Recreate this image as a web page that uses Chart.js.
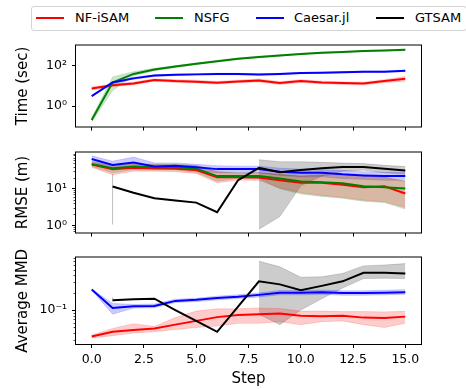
<!DOCTYPE html>
<html>
<head>
<meta charset="utf-8">
<script src="https://cdn.jsdelivr.net/npm/chart.js@4.4.0/dist/chart.umd.min.js"></script>
<style>
  body { margin: 0; background: #fff; width: 466px; height: 389px; position: relative; overflow: hidden; font-family: "DejaVu Sans", sans-serif; }
  canvas { position: absolute; left: 0; }
  #legend { position: absolute; left: 31px; top: 6px; width: 436px; height: 25px; border: 1px solid #d4d4d4; border-radius: 3px; box-sizing: border-box; background: #fff; z-index: 2; }
  #legend .sw { position: absolute; top: 10px; width: 28px; height: 2px; }
  #legend .lb { position: absolute; top: 3px; font-size: 13px; line-height: 16px; color: #000; white-space: nowrap; }
</style>
</head>
<body>
<div id="legend">
  <span class="sw" style="left:4px;background:#ff0000"></span><span class="lb" style="left:43px">NF-iSAM</span>
  <span class="sw" style="left:123px;background:#008000"></span><span class="lb" style="left:162px">NSFG</span>
  <span class="sw" style="left:224px;background:#0000ff"></span><span class="lb" style="left:262px">Caesar.jl</span>
  <span class="sw" style="left:344px;background:#000000"></span><span class="lb" style="left:383px">GTSAM</span>
</div>
<canvas id="timeChart" width="466" height="106" style="top:33px"></canvas>
<canvas id="rmseChart" width="466" height="105" style="top:140px"></canvas>
<canvas id="mmdChart" width="466" height="144" style="top:245px"></canvas>

<script>
const steps = [0, 1, 2, 3, 4, 5, 6, 7, 8, 9, 10, 11, 12, 13, 14, 15];
const xTicks = [0, 2.5, 5, 7.5, 10, 12.5, 15];

// Time (sec)
const nfTime = [7.6, 10.8, 13.5, 20, 17.6, 16.5, 14.5, 17, 19, 14, 17.6, 15, 14, 13.5, 17.6, 23];
const nfTimeLo = [6.4, 9.3, 11.5, 17.5, 15, 14, 12.5, 14.5, 16, 12, 15, 13, 12, 11.5, 15, 17.5];
const nfTimeHi = [9.0, 12.5, 15.8, 23, 20.5, 19.5, 17, 19.5, 22.5, 16.5, 20.5, 17.5, 16, 15.5, 20.5, 30];
const nsfgTime = [0.2, 15, 40, 66, 93, 128, 172, 228, 278, 335, 394, 450, 500, 550, 590, 645];
const nsfgTimeLo = [0.16, 6, 32, 58, 84, 116, 158, 210, 258, 312, 368, 420, 468, 515, 552, 605];
const nsfgTimeHi = [0.26, 28, 52, 76, 103, 140, 188, 248, 300, 360, 422, 480, 535, 588, 630, 690];
const caesarTime = [3.1, 15, 24, 33, 36, 38, 40, 40, 37, 40, 44, 46, 48.5, 52, 52, 57];
const caesarTimeLo = [2.9, 13.5, 21.5, 30, 33, 35, 37, 37, 34, 37, 41, 43, 45, 48, 48, 53];
const caesarTimeHi = [3.3, 16.5, 27, 36, 39, 41, 43, 43, 40, 43, 47, 49, 52, 56, 56, 61];
const timeTicks = [1, 100];
const timeLabels = ["10⁰", "10²"];

// RMSE (m)
const nfRmse = [45, 34, 37, 36, 35, 32, 20.5, 20.5, 20, 17, 14.5, 14.5, 12.8, 11, 11.7, 7.4];
const nfRmseLo = [38, 24, 30, 30, 29, 26, 14.5, 17, 17, 10.5, 7.8, 6.6, 5.8, 4.9, 4.4, 3.1];
const nfRmseHi = [52, 43, 46, 45, 44, 42, 29, 26, 27, 24.5, 22, 23.5, 24.5, 22.4, 20.6, 15.8];
const nsfgRmse = [47, 36, 40, 38, 39, 35, 22, 22, 22, 18.8, 15.8, 15, 14, 11.7, 11, 10.2];
const nsfgRmseLo = [40, 27, 33, 32, 32, 28, 16, 19, 18.8, 10, 7.2, 6.2, 5.5, 4.6, 4.2, 2.8];
const nsfgRmseHi = [54, 45, 48, 46, 46, 43, 29, 27, 27, 24.5, 22, 23.5, 24.5, 22.4, 20.6, 16];
const caesarRmse = [64, 44, 51, 40, 42, 38, 34, 34, 34, 29, 27, 27, 24.5, 23, 22, 22];
const caesarRmseLo = [54, 35, 38, 33, 35, 31, 27, 27, 27, 23, 21, 21, 19, 18, 17, 17];
const caesarRmseHi = [78, 56, 72, 50, 50, 46, 42, 41, 41, 36, 34, 33, 31, 29, 28, 28];
const gtsamRmse = [null, 11.5, 7.8, 5.5, 4.8, 4.2, 2.3, 17, 37, 28, 32, 36, 39, 39, 35, 31];
const gtsamRmseLo = [null, 1.07, null, null, null, null, null, null, 0.8, 1.76, 12, 22, 30, 32, 27, 24.5];
const gtsamRmseHi = [null, 25, null, null, null, null, null, null, 61, 54, 54, 52, 49.5, 48, 43, 40];
const rmseTicks = [1, 10];
const rmseLabels = ["10⁰", "10¹"];
const rmseMinor = [0.7, 0.8, 0.9, 2, 3, 4, 5, 6, 7, 8, 9, 20, 30, 40, 50, 60, 70, 80, 90];

// Average MMD
const nfMmd = [0.035, 0.042, 0.045, 0.048, 0.056, 0.065, 0.0755, 0.082, 0.085, 0.087, 0.08, 0.078, 0.08, 0.074, 0.073, 0.077];
const nfMmdLo = [0.033, 0.036, 0.04, 0.042, 0.046, 0.05, 0.053, 0.059, 0.059, 0.063, 0.056, 0.063, 0.065, 0.056, 0.05, 0.059];
const nfMmdHi = [0.037, 0.048, 0.058, 0.052, 0.074, 0.096, 0.105, 0.105, 0.109, 0.106, 0.096, 0.096, 0.094, 0.094, 0.093, 0.095];
const caesarMmd = [0.226, 0.109, 0.116, 0.118, 0.144, 0.15, 0.162, 0.17, 0.183, 0.2, 0.2, 0.204, 0.197, 0.197, 0.2, 0.204];
const caesarMmdLo = [0.222, 0.085, 0.108, 0.11, 0.135, 0.14, 0.15, 0.158, 0.168, 0.183, 0.183, 0.187, 0.18, 0.18, 0.183, 0.188];
const caesarMmdHi = [0.23, 0.13, 0.125, 0.127, 0.154, 0.16, 0.174, 0.183, 0.198, 0.218, 0.218, 0.222, 0.215, 0.215, 0.22, 0.225];
const gtsamMmd = [null, 0.148, 0.153, 0.157, 0.1, 0.065, 0.042, 0.115, 0.314, 0.278, 0.22, 0.262, 0.314, 0.44, 0.44, 0.43];
const gtsamMmdLo = [null, 0.139, null, null, null, null, null, null, 0.085, 0.056, 0.1, 0.157, 0.24, 0.35, 0.355, 0.35];
const gtsamMmdHi = [null, 0.166, null, null, null, null, null, null, 0.70, 0.56, 0.37, 0.375, 0.43, 0.58, 0.6, 0.635];
const mmdTicks = [0.1];
const mmdLabels = ["10⁻¹"];
const mmdMinor = [0.03, 0.04, 0.05, 0.06, 0.07, 0.08, 0.09, 0.2, 0.3, 0.4, 0.5, 0.6, 0.7, 0.8];

const RED = "#ff0000", GREEN = "#008000", BLUE = "#0000ff", BLACK = "#000000";
const FONT = "DejaVu Sans";

function pts(vals) {
  return vals.map((v, i) => ({ x: steps[i], y: v }));
}

function band(lo, hi, color) {
  return [
    { data: pts(hi), fill: "+1", backgroundColor: color, borderColor: color, borderWidth: 0.8, pointRadius: 0, order: 10 },
    { data: pts(lo), fill: false, borderColor: color, borderWidth: 0.8, pointRadius: 0, order: 10 },
  ];
}

function line(vals, color, order) {
  return { data: pts(vals), borderColor: color, borderWidth: 2, pointRadius: 0, fill: false, order };
}

// single-step spread drawn as a vertical stroke (fill_between with one point)
function stub(lo, hi, i) {
  return { data: [{ x: steps[i], y: lo[i] }, { x: steps[i], y: hi[i] }], borderColor: "rgba(0,0,0,0.25)", borderWidth: 1, pointRadius: 0, fill: false, order: 10 };
}

const frame = {
  id: "frame",
  afterDraw(chart) {
    const { ctx, chartArea: a } = chart;
    ctx.save();
    ctx.strokeStyle = "#000";
    ctx.lineWidth = 1;
    ctx.strokeRect(a.left - 0.5, a.top - 0.5, a.right - a.left + 1, a.bottom - a.top + 1);
    ctx.restore();
  },
};

const minorTicks = {
  id: "minorTicks",
  afterDraw(chart, args, opts) {
    const vals = opts.values || [];
    const s = chart.scales.y;
    const ctx = chart.ctx;
    ctx.save();
    ctx.strokeStyle = "#000";
    ctx.lineWidth = 0.7;
    vals.forEach((v) => {
      if (v < s.min || v > s.max) return;
      const y = Math.round(s.getPixelForValue(v)) + 0.5;
      ctx.beginPath();
      ctx.moveTo(s.right - 2.5, y);
      ctx.lineTo(s.right, y);
      ctx.stroke();
    });
    ctx.restore();
  },
};

function makePanel(id, datasets, cfg) {
  return new Chart(document.getElementById(id), {
    type: "line",
    data: { datasets },
    options: {
      responsive: false,
      animation: false,
      events: [],
      layout: { padding: { top: cfg.padTop, right: 45, left: 0, bottom: 0 } },
      elements: { line: { tension: 0 }, point: { radius: 0 } },
      plugins: {
        legend: { display: false },
        tooltip: { enabled: false },
        minorTicks: { values: cfg.minor },
      },
      scales: {
        x: {
          type: "linear",
          min: -0.75,
          max: 15.75,
          afterBuildTicks: (s) => { s.ticks = xTicks.map((v) => ({ value: v })); },
          afterFit: (s) => { s.height = cfg.xHeight; },
          border: { display: false },
          grid: { drawOnChartArea: false, drawTicks: true, tickLength: 4, tickColor: "#000", tickWidth: 1 },
          ticks: {
            display: cfg.showX,
            autoSkip: false,
            maxRotation: 0,
            padding: 4,
            color: "#000",
            font: { family: FONT, size: 12.5 },
            callback: (v) => Number(v).toFixed(1),
          },
          title: { display: cfg.showX, text: "Step", color: "#000", font: { family: FONT, size: 15 }, padding: { top: 0, bottom: 1 } },
        },
        y: {
          type: "logarithmic",
          min: cfg.min,
          max: cfg.max,
          afterBuildTicks: (s) => { s.ticks = cfg.ticks.map((v) => ({ value: v })); },
          afterFit: (s) => { s.width = 76; },
          border: { display: false },
          grid: { drawOnChartArea: false, drawTicks: true, tickLength: 4, tickColor: "#000", tickWidth: 1 },
          ticks: {
            autoSkip: false,
            padding: 5,
            color: "#000",
            font: { family: FONT, size: 12.5 },
            callback: (v, i) => cfg.labels[i],
          },
          title: { display: true, text: cfg.title, color: "#000", font: { family: FONT, size: 15 }, padding: { top: 14, bottom: 0 } },
        },
      },
    },
    plugins: [frame, minorTicks],
  });
}

makePanel("timeChart", [
  ...band(nfTimeLo, nfTimeHi, "rgba(255,0,0,0.2)"),
  ...band(nsfgTimeLo, nsfgTimeHi, "rgba(0,128,0,0.2)"),
  ...band(caesarTimeLo, caesarTimeHi, "rgba(0,0,255,0.2)"),
  line(nfTime, RED, 3),
  line(nsfgTime, GREEN, 2),
  line(caesarTime, BLUE, 1),
], { padTop: 5, xHeight: 6, showX: false, min: 0.0955, max: 1047, ticks: timeTicks, labels: timeLabels, minor: [], title: "Time (sec)" });

makePanel("rmseChart", [
  ...band(nfRmseLo, nfRmseHi, "rgba(255,0,0,0.2)"),
  ...band(nsfgRmseLo, nsfgRmseHi, "rgba(0,128,0,0.2)"),
  ...band(caesarRmseLo, caesarRmseHi, "rgba(0,0,255,0.2)"),
  ...band(gtsamRmseLo, gtsamRmseHi, "rgba(0,0,0,0.2)"),
  stub(gtsamRmseLo, gtsamRmseHi, 1),
  line(nfRmse, RED, 3),
  line(nsfgRmse, GREEN, 2),
  line(caesarRmse, BLUE, 1),
  line(gtsamRmse, BLACK, 0),
], { padTop: 4, xHeight: 6, showX: false, min: 0.65, max: 96, ticks: rmseTicks, labels: rmseLabels, minor: rmseMinor, title: "RMSE (m)" });

makePanel("mmdChart", [
  ...band(nfMmdLo, nfMmdHi, "rgba(255,0,0,0.2)"),
  ...band(caesarMmdLo, caesarMmdHi, "rgba(0,0,255,0.2)"),
  ...band(gtsamMmdLo, gtsamMmdHi, "rgba(0,0,0,0.2)"),
  stub(gtsamMmdLo, gtsamMmdHi, 1),
  line(nfMmd, RED, 3),
  line(caesarMmd, BLUE, 1),
  line(gtsamMmd, BLACK, 0),
], { padTop: 5, xHeight: 45, showX: true, min: 0.0259, max: 0.81, ticks: mmdTicks, labels: mmdLabels, minor: mmdMinor, title: "Average MMD" });
</script>
</body>
</html>
